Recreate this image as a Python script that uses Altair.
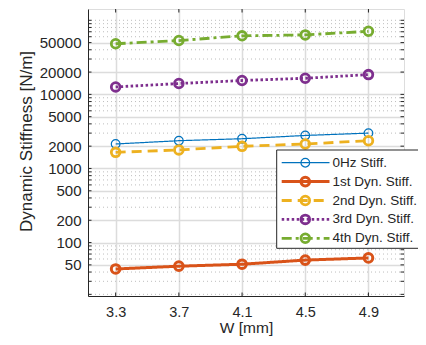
import altair as alt
import pandas as pd

# ---- data ----
w_mm = [3.3, 3.7, 4.1, 4.5, 4.9]
series_names = ["0Hz Stiff.", "1st Dyn. Stiff.", "2nd Dyn. Stiff.", "3rd Dyn. Stiff.", "4th Dyn. Stiff."]
stiff_0hz = [2140, 2370, 2520, 2790, 3000]
stiff_1st = [44, 48, 51, 58, 62]
stiff_2nd = [1650, 1780, 1990, 2140, 2370]
stiff_3rd = [12600, 14000, 15400, 16500, 18500]
stiff_4th = [48200, 53300, 61700, 63500, 71000]

y_major = [50, 100, 200, 500, 1000, 2000, 5000, 10000, 20000, 50000]
y_minor = [20, 30, 40, 60, 70, 80, 90, 300, 400, 600, 700, 800, 900,
           3000, 4000, 6000, 7000, 8000, 9000,
           30000, 40000, 60000, 70000, 80000, 90000, 100000]

# ---- styles ----
colors = ["#0072BD", "#D95319", "#EDB120", "#7E2F8E", "#77AC30"]
dashes = [[1, 0], [1, 0], [10, 6], [2.5, 2.5], [10, 4, 3, 4]]
widths = [1.2, 3.0, 2.8, 2.8, 2.8]

W, H = 316, 287
AX = "#262626"
FONT = "Liberation Sans"

values = [stiff_0hz, stiff_1st, stiff_2nd, stiff_3rd, stiff_4th]
rows = []
for name, vals in zip(series_names, values):
    for x, v in zip(w_mm, vals):
        rows.append({"W": x, "value": v, "series": name})
df = pd.DataFrame(rows)

xscale = alt.Scale(domain=[3.125, 5.125], nice=False, zero=False)
yscale = alt.Scale(type="log", domain=[19, 142000], nice=False, zero=False)

xaxis = alt.Axis(values=w_mm, format=".1f", title="W [mm]", grid=True,
                 gridColor="#dcdcdc", gridWidth=1.5, tickSize=0,
                 domainColor=AX, labelColor=AX, labelFontSize=14.5,
                 labelPadding=9.5, titleFontSize=15.5, titleFontWeight="normal",
                 titleColor=AX, titleY=36.5, titleBaseline="alphabetic",
                 labelFont=FONT, titleFont=FONT)
yaxis = alt.Axis(values=y_major, format="d", title="Dynamic Stiffness [N/m]",
                 grid=True, gridColor="#dcdcdc", gridWidth=1.5, tickSize=0,
                 domainColor=AX, labelColor=AX, labelFontSize=15,
                 labelPadding=7, titleFontSize=17, titleFontWeight="normal",
                 titleColor=AX, titleX=-56.3, titleY=132, titleAlign="center",
                 titleBaseline="alphabetic", labelFont=FONT, titleFont=FONT)

color_enc = alt.Color("series:N", scale=alt.Scale(domain=series_names, range=colors), legend=None)
dash_enc = alt.StrokeDash("series:N", scale=alt.Scale(domain=series_names, range=dashes), legend=None)
width_enc = alt.StrokeWidth("series:N", scale=alt.Scale(type="ordinal", domain=series_names, range=widths), legend=None)

minor_df = pd.DataFrame({"v": y_minor})
all_ticks_df = pd.DataFrame({"v": y_major + y_minor})
xt_df = pd.DataFrame({"W": w_mm})

minor_grid = alt.Chart(minor_df).mark_rule(color="#bdbdbd", strokeDash=[1, 3], strokeWidth=1).encode(
    y=alt.Y("v:Q", scale=yscale, axis=yaxis)
)
left_ticks = alt.Chart(all_ticks_df).mark_rule(color=AX, strokeWidth=1).encode(
    y=alt.Y("v:Q", scale=yscale, axis=yaxis), x=alt.value(0), x2=alt.value(3.5)
)
right_ticks = alt.Chart(all_ticks_df).mark_rule(color=AX, strokeWidth=1).encode(
    y=alt.Y("v:Q", scale=yscale, axis=yaxis), x=alt.value(W - 3.5), x2=alt.value(W)
)
top_ticks = alt.Chart(xt_df).mark_rule(color=AX, strokeWidth=1).encode(
    x=alt.X("W:Q", scale=xscale, axis=xaxis), y=alt.value(0), y2=alt.value(3.5)
)
bottom_ticks = alt.Chart(xt_df).mark_rule(color=AX, strokeWidth=1).encode(
    x=alt.X("W:Q", scale=xscale, axis=xaxis), y=alt.value(H - 3.5), y2=alt.value(H)
)

lines = alt.Chart(df).mark_line().encode(
    x=alt.X("W:Q", scale=xscale, axis=xaxis),
    y=alt.Y("value:Q", scale=yscale, axis=yaxis),
    color=color_enc, strokeDash=dash_enc, strokeWidth=width_enc,
    detail="series:N",
)
points = alt.Chart(df).mark_point(shape="circle", filled=False, size=75, opacity=1).encode(
    x=alt.X("W:Q", scale=xscale, axis=xaxis),
    y=alt.Y("value:Q", scale=yscale, axis=yaxis),
    color=color_enc, strokeWidth=width_enc,
)

main = alt.layer(minor_grid, left_ticks, right_ticks, top_ticks, bottom_ticks, lines, points)

# ---- legend (drawn in the plot) ----
leg_df = pd.DataFrame({"series": series_names})
leg_y = alt.Y("series:N", scale=alt.Scale(type="point", domain=series_names, range=[153.7, 229.3], padding=0), axis=None)

box = alt.Chart(pd.DataFrame({"a": [0]})).mark_rect(fill="white", stroke=AX, strokeWidth=1).encode(
    x=alt.value(188.7), x2=alt.value(340), y=alt.value(141), y2=alt.value(239.3)
)
leg_lines = alt.Chart(leg_df).mark_rule().encode(
    y=leg_y, x=alt.value(193.7), x2=alt.value(241.5),
    color=color_enc, strokeDash=dash_enc, strokeWidth=width_enc,
)
leg_points = alt.Chart(leg_df).mark_point(shape="circle", filled=False, size=75, opacity=1).encode(
    y=leg_y, x=alt.value(217.3), color=color_enc, strokeWidth=width_enc,
)
leg_text = alt.Chart(leg_df).mark_text(align="left", baseline="middle", fontSize=13.5, font=FONT, color=AX).encode(
    y=leg_y, x=alt.value(244.5), text="series:N"
)
legend = alt.layer(box, leg_lines, leg_points, leg_text)

chart = alt.layer(main, legend).resolve_scale(y="independent").properties(
    width=W, height=H,
    autosize=alt.AutoSizeParams(type="none"),
    padding={"left": 80, "top": 1, "right": 14, "bottom": 40},
).configure_view(stroke=AX, strokeWidth=1).configure(font=FONT)

chart.save("out.html", embed_options={"renderer": "svg", "actions": False})
